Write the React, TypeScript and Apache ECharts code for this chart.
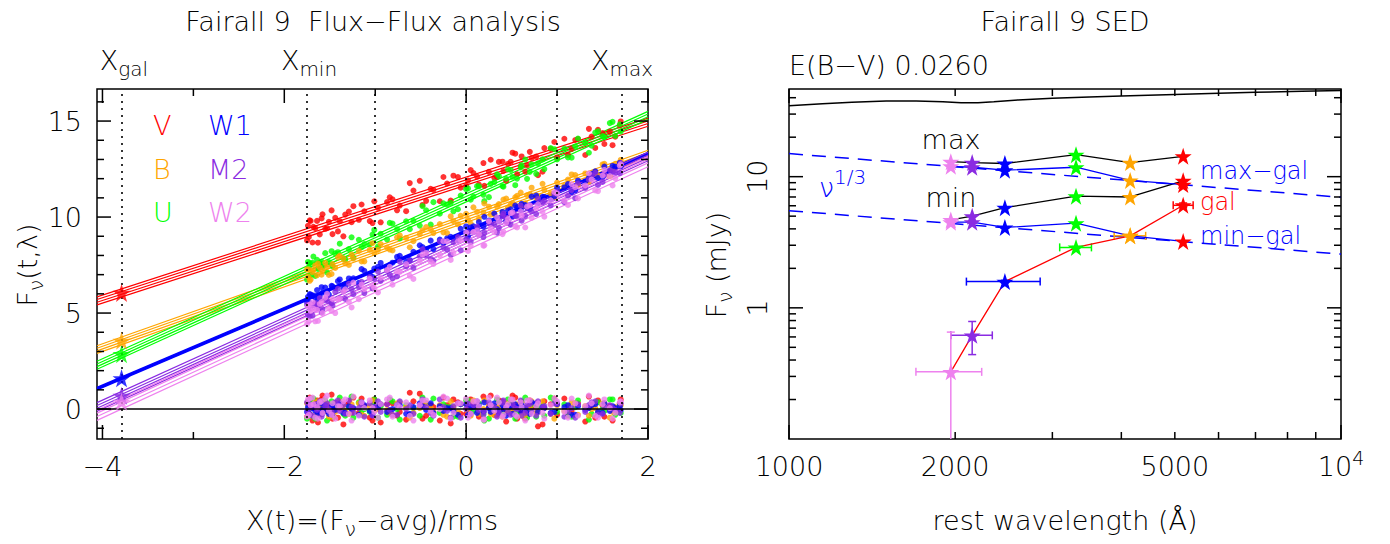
import React, { useEffect, useRef } from 'react';
import * as echarts from 'echarts';

const FONT = '"DejaVu Sans", sans-serif';
const FS = 27;
const FW = 200;

// ---------- left panel: flux-flux analysis ----------
const filterNames = ['V', 'B', 'U', 'W1', 'M2', 'W2'];
const filterColors = ['#ff0000', '#ffa500', '#00ff00', '#0000ff', '#8a2be2', '#ee82ee'];
const leftXRange = [-4.06, 2.0];
const leftYRange = [-1.56, 16.67];
// fitted linear model F = a + b X for each filter
const fitAt0 = [11.87, 9.92, 11.0, 9.26, 8.85, 8.64];
const fitSlope = [1.536, 1.68, 2.148, 2.02, 2.152, 2.18];
const bandOffsets = [
  [-0.21, -0.07, 0.07, 0.21],
  [-0.2, -0.07, 0.07, 0.2],
  [-0.21, -0.07, 0.07, 0.21],
  [-0.06, -0.02, 0.02, 0.06],
  [-0.22, -0.07, 0.07, 0.22],
  [-0.38, -0.18, 0.0, 0.15],
];
const markerNames = ['gal', 'min', 'max'];
const markerX = [-3.79, -1.75, 1.71];
const extraDottedX = [-1, 0, 1];
const galFluxLeft = [6.05, 3.56, 2.86, 1.6, 0.69, 0.38];

// epochs (X values) and residuals from the fit for each filter
const epochX = [-1.74, -1.73, -1.71, -1.69, -1.66, -1.64, -1.61, -1.58, -1.55, -1.51, -1.47, -1.44, -1.39, -1.35, -1.29, -1.24, -1.18, -1.12, -1.06, -1.01, -0.94, -0.87, -0.81, -0.73, -0.66, -0.58, -0.51, -0.44, -0.36, -0.29, -0.21, -0.14, -0.06, 0.02, 0.08, 0.14, 0.19, 0.25, 0.31, 0.36, 0.41, 0.46, 0.51, 0.56, 0.61, 0.67, 0.72, 0.79, 0.86, 0.93, 1.0, 1.08, 1.16, 1.23, 1.31, 1.38, 1.45, 1.52, 1.58, 1.64, 1.69];
const resV = [0.35, -0.25, 0.55, -0.6, 0.1, 0.45, -0.3, 0.7, -0.1, 0.2, -0.5, 0.3, 0.05, -0.8, 0.4, 0.6, -0.2, 0.15, -0.45, 0.5, -0.7, 0.25, 0.3, -0.15, -0.55, 0.4, 0.8, -0.35, 0.1, -0.6, 0.2, 0.5, -0.25, 0.0, 0.3, -0.4, 0.65, 0.1, -0.3, 0.45, -0.1, 0.2, 0.7, -0.5, 0.35, -0.2, 0.1, -0.9, 0.4, 0.25, -0.3, 0.55, -0.1, 0.3, -0.65, 0.2, 0.45, -0.4, 0.15, -0.2, 0.3];
const resB = [-0.1, 0.25, -0.3, 0.05, 0.35, -0.2, 0.15, -0.05, 0.3, -0.4, 0.1, -0.15, 0.4, 0.2, -0.25, 0.0, 0.3, -0.35, 0.15, -0.1, 0.25, -0.05, -0.3, 0.35, 0.1, -0.2, 0.05, 0.3, -0.15, 0.2, -0.4, 0.1, 0.25, -0.1, 0.45, -0.25, 0.0, 0.2, -0.3, 0.15, 0.3, -0.2, -0.05, 0.25, -0.35, 0.1, 0.4, -0.15, 0.05, -0.25, 0.2, -0.1, 0.35, -0.3, 0.15, 0.0, -0.2, 0.3, -0.45, 0.1, -0.05];
const resU = [0.4, 0.1, -0.35, 0.25, -0.5, 0.3, 0.05, -0.2, 0.45, -0.1, -0.4, 0.2, 0.6, -0.25, 0.1, -0.45, 0.35, 0.0, -0.15, 0.5, 0.15, -0.3, 0.4, -0.55, 0.2, 0.05, -0.35, 0.3, 0.55, -0.2, 0.1, -0.4, 0.25, 0.45, -0.1, 0.3, -0.25, -0.5, 0.15, 0.35, -0.3, 0.5, 0.0, -0.2, 0.4, -0.45, 0.2, 0.1, -0.35, 0.6, -0.15, 0.25, -0.4, 0.45, 0.05, -0.25, 0.35, -0.1, 0.5, -0.3, 0.2];
const resW1 = [0.1, -0.2, 0.15, 0.05, -0.1, 0.25, -0.15, 0.0, 0.2, -0.25, 0.1, -0.05, 0.3, -0.2, 0.15, 0.05, -0.3, 0.2, -0.1, 0.1, 0.25, -0.15, 0.0, 0.2, -0.25, 0.1, 0.3, -0.05, -0.2, 0.15, 0.05, -0.1, 0.25, -0.3, 0.1, 0.2, -0.15, 0.05, 0.3, -0.2, 0.0, 0.15, -0.25, 0.1, 0.2, -0.1, 0.35, -0.15, 0.05, -0.2, 0.25, 0.1, -0.3, 0.15, -0.05, 0.2, -0.15, 0.3, -0.1, 0.05, 0.15];
const resM2 = [-0.2, 0.3, 0.1, -0.35, 0.25, -0.05, 0.4, -0.25, 0.15, 0.0, -0.3, 0.35, -0.1, 0.2, 0.45, -0.2, 0.05, -0.4, 0.3, 0.1, -0.15, 0.25, -0.3, 0.4, 0.0, -0.25, 0.2, 0.1, -0.35, 0.5, -0.1, 0.15, -0.45, 0.3, 0.2, -0.05, -0.3, 0.35, 0.1, -0.2, 0.45, -0.15, 0.25, 0.0, -0.35, 0.2, -0.1, 0.4, 0.15, -0.25, 0.3, -0.4, 0.05, 0.25, -0.15, 0.35, -0.3, 0.1, 0.2, -0.05, -0.2];
const resW2 = [0.5, -0.3, 0.2, 0.6, -0.45, 0.1, 0.35, -0.2, 0.55, -0.1, 0.3, -0.5, 0.15, 0.4, -0.25, 0.65, -0.35, 0.05, 0.45, -0.15, 0.25, 0.5, -0.4, 0.1, 0.35, -0.6, 0.2, 0.45, -0.3, 0.0, 0.55, -0.2, 0.3, -0.45, 0.4, 0.15, -0.55, 0.6, -0.1, 0.35, -0.3, 0.25, 0.5, -0.4, 0.1, 0.45, -0.25, 0.3, -0.5, 0.2, 0.4, -0.15, 0.55, -0.35, 0.15, 0.3, -0.45, 0.5, 0.05, -0.2, 0.35];

const epochX2 = [-1.75, -1.72, -1.68, -1.63, -1.59, -1.53, -1.48, -1.41, -1.33, -1.26, -1.15, -1.03, -0.97, -0.84, -0.76, -0.62, -0.48, -0.39, -0.25, -0.17, -0.09, 0.0, 0.05, 0.12, 0.2, 0.27, 0.34, 0.4, 0.44, 0.49, 0.54, 0.6, 0.65, 0.7, 0.77, 0.84, 0.97, 1.12, 1.2, 1.35, 1.42, 1.5, 1.61, 1.7];
const resV2 = [-0.4, 0.6, 0.2, -0.7, 0.5, -0.1, 0.75, -0.45, 0.3, -0.2, 0.55, -0.6, 0.1, 0.45, -0.35, 0.85, -0.5, 0.2, 0.6, -0.75, 0.35, -0.25, 0.5, 0.05, -0.55, 0.7, -0.3, 0.4, -0.65, 0.25, 0.6, -0.15, -0.5, 0.45, 0.1, -0.8, 0.55, -0.35, 0.3, 0.65, -0.45, 0.2, -0.6, 0.5];
const resB2 = [0.3, -0.35, 0.15, 0.4, -0.25, 0.05, -0.4, 0.35, -0.1, 0.25, -0.3, 0.45, 0.0, -0.2, 0.3, -0.45, 0.2, 0.1, -0.3, 0.4, -0.15, 0.25, -0.35, 0.15, 0.45, -0.25, 0.05, -0.4, 0.3, -0.1, 0.2, 0.35, -0.3, 0.1, -0.2, 0.4, -0.5, 0.15, 0.25, -0.35, 0.05, 0.3, -0.15, 0.2];
const resU2 = [-0.5, 0.3, 0.55, -0.2, 0.1, -0.6, 0.4, 0.2, -0.35, 0.65, -0.1, 0.3, -0.45, 0.5, 0.0, -0.3, 0.6, -0.55, 0.25, 0.1, -0.4, 0.45, -0.2, 0.35, -0.6, 0.15, 0.5, -0.25, 0.05, 0.4, -0.5, 0.3, 0.6, -0.15, -0.4, 0.2, 0.45, -0.3, 0.1, -0.55, 0.35, 0.0, 0.5, -0.2];
const resW12 = [-0.15, 0.2, 0.05, -0.25, 0.3, -0.1, 0.15, 0.25, -0.2, 0.0, 0.35, -0.3, 0.1, -0.05, 0.2, -0.25, 0.15, 0.3, -0.1, 0.05, -0.3, 0.25, 0.1, -0.2, 0.35, -0.15, 0.0, 0.2, -0.35, 0.15, 0.25, -0.1, 0.05, -0.25, 0.3, 0.1, -0.15, 0.2, -0.3, 0.05, 0.25, -0.2, 0.15, -0.05];
const resM22 = [0.35, -0.3, 0.2, 0.05, -0.4, 0.3, -0.15, 0.45, -0.25, 0.1, 0.25, -0.35, 0.4, -0.05, -0.3, 0.2, 0.5, -0.2, 0.1, -0.45, 0.3, 0.0, -0.25, 0.4, -0.1, 0.2, -0.4, 0.35, 0.15, -0.3, 0.05, 0.45, -0.2, 0.25, -0.35, 0.1, 0.3, -0.15, -0.45, 0.2, 0.4, -0.25, 0.05, 0.3];
const resW22 = [-0.4, 0.55, 0.25, -0.5, 0.4, 0.7, -0.3, 0.15, 0.5, -0.6, 0.35, 0.05, -0.45, 0.6, 0.2, -0.35, 0.45, -0.1, 0.65, -0.5, 0.3, 0.55, -0.25, 0.4, -0.55, 0.2, 0.6, -0.4, 0.1, 0.5, -0.3, 0.35, -0.6, 0.45, 0.15, -0.2, 0.55, -0.45, 0.3, 0.7, -0.35, 0.25, -0.5, 0.4];

const epochSets = [epochX, epochX2];
const residualSets = [
  [resV, resB, resU, resW1, resM2, resW2],
  [resV2, resB2, resU2, resW12, resM22, resW22],
];

const leftXLabels = [-4, -2, 0, 2];
const leftXMajor = [-4, -2, 0, 2];
const leftXMinor = [-3, -1, 1];
const leftYLabels = [0, 5, 10, 15];
const leftYMajor = [0, 5, 10, 15];
const leftYMinor = [-1, 1, 2, 3, 4, 6, 7, 8, 9, 11, 12, 13, 14, 16];

// ---------- right panel: SED ----------
const lam = [5177, 4150, 3311, 2461, 2147, 1964]; // V,B,U,W1,M2,W2
const maxF = [14.3, 12.8, 14.7, 12.6, 12.8, 13.0];
const maxGalF = [8.7, 9.37, 11.8, 11.2, 11.8, 12.0];
const minF = [9.3, 7.0, 7.1, 5.8, 5.0, 4.68];
const minGalF = [3.21, 3.54, 4.42, 4.1, 4.5, 4.5];
const galF = [6.05, 3.54, 2.89, 1.585, 0.617, 0.325];
const galLamLo = [4966, 3882, 3093, 2096, 1964, 1698];
const galLamHi = [5397, 4427, 3531, 2851, 2335, 2234];
const galFLo = [5.8, 3.5, 2.85, 1.55, 0.44, 0.1];
const galFHi = [6.3, 3.58, 2.93, 1.62, 0.787, 0.653];
const nuThirdHigh = [[1000, 15.0], [10000, 6.96]];
const nuThirdLow = [[1000, 5.5], [10000, 2.57]];
const topCurve = [[1000, 34.8], [1150, 36.0], [1300, 37.0], [1500, 37.7], [1700, 37.8], [1900, 37.2], [2050, 36.6], [2200, 36.6], [2350, 37.3], [2600, 38.5], [3000, 39.6], [3500, 40.5], [4000, 41.3], [5000, 42.4], [6000, 43.3], [7000, 44.0], [8500, 44.8], [10000, 45.4]];
const rightXRange = [1000, 10000];
const rightYRange = [0.1, 46.6];
const rightXLabels = [1000, 2000, 5000, 10000];
const rightXMajor = [1000, 10000];
const rightXMinor = [2000, 3000, 4000, 5000, 6000, 7000, 8000, 9000];
const rightYLabels = [1, 10];
const rightYMajor = [1, 10];
const rightYMinor = [0.2, 0.3, 0.4, 0.5, 0.6, 0.7, 0.8, 0.9, 2, 3, 4, 5, 6, 7, 8, 9, 20, 30, 40];

const STAR = 'path://M50,0 L61.8,35.1 L97.6,35.1 L68.5,56.7 L79.4,91.2 L50,70 L20.6,91.2 L31.5,56.7 L2.4,35.1 L38.2,35.1 Z';
const MAJOR_LEN = 14;
const MINOR_LEN = 7;

function tickSeries(gi: number, xMaj: number[], xMin: number[], yMaj: number[], yMin: number[], xRef: number, yRef: number) {
  const data: number[][] = [];
  xMaj.forEach((v) => data.push([v, yRef, MAJOR_LEN, 0]));
  xMin.forEach((v) => data.push([v, yRef, MINOR_LEN, 0]));
  yMaj.forEach((v) => data.push([xRef, v, MAJOR_LEN, 1]));
  yMin.forEach((v) => data.push([xRef, v, MINOR_LEN, 1]));
  return {
    type: 'custom',
    xAxisIndex: gi,
    yAxisIndex: gi,
    silent: true,
    z: 20,
    encode: { x: 0, y: 1 },
    data,
    renderItem: (params: any, api: any) => {
      const cs = params.coordSys;
      const p = api.coord([api.value(0), api.value(1)]);
      const len = api.value(2);
      const isY = api.value(3);
      const style = { stroke: '#000', lineWidth: 1.5 };
      if (!isY) {
        const x = p[0];
        return {
          type: 'group',
          children: [
            { type: 'line', shape: { x1: x, y1: cs.y + cs.height, x2: x, y2: cs.y + cs.height - len }, style },
            { type: 'line', shape: { x1: x, y1: cs.y, x2: x, y2: cs.y + len }, style },
          ],
        };
      }
      const y = p[1];
      return {
        type: 'group',
        children: [
          { type: 'line', shape: { x1: cs.x, y1: y, x2: cs.x + len, y2: y }, style },
          { type: 'line', shape: { x1: cs.x + cs.width, y1: y, x2: cs.x + cs.width - len, y2: y }, style },
        ],
      };
    },
  };
}

const minus = (v: number) => (v < 0 ? '\u2212' + Math.abs(v) : String(v));

function txt(x: number, y: number, text: string, color: string, align: string, extra: any = {}, size: number = FS) {
  return {
    type: 'text',
    x,
    y,
    silent: true,
    z: 30,
    ...extra,
    style: {
      text,
      fill: color,
      fontSize: size,
      fontWeight: FW,
      fontFamily: FONT,
      textAlign: align,
      textVerticalAlign: 'middle',
      rich: {
        a: { fontSize: size, fontWeight: FW, fontFamily: FONT, fill: color, color },
        sub: { fontSize: 20, fontWeight: FW, fontFamily: FONT, fill: color, color, padding: [18, 0, 0, 0] },
        sup: { fontSize: 20, fontWeight: FW, fontFamily: FONT, fill: color, color, padding: [0, 0, 20, 0] },
      },
    },
  };
}

function buildOption() {
  const series: any[] = [];

  // left: fitted lines
  filterNames.forEach((_, f) => {
    bandOffsets[f].forEach((o, k) => {
      const s: any = {
        type: 'line',
        xAxisIndex: 0,
        yAxisIndex: 0,
        silent: true,
        symbol: 'none',
        z: 2,
        lineStyle: { color: filterColors[f], width: f === 3 ? 1.6 : 1.2 },
        data: leftXRange.map((x) => [x, fitAt0[f] + o + fitSlope[f] * x]),
      };
      if (f === 0 && k === 0) {
        s.markLine = {
          silent: true,
          symbol: ['none', 'none'],
          label: { show: false },
          data: [
            ...markerX.concat(extraDottedX).map((x) => ({ xAxis: x, lineStyle: { type: [2, 5], width: 1.6, color: '#000' } })),
            { yAxis: 0, lineStyle: { type: 'solid', width: 1.6, color: '#000' } },
          ],
        };
      }
      series.push(s);
    });
  });

  // left: flux points and residual points
  const drawOrder = [0, 2, 1, 3, 4, 5];
  drawOrder.forEach((f) => {
    const flux: number[][] = [];
    const res: number[][] = [];
    epochSets.forEach((xs, si) => {
      xs.forEach((x, i) => {
        const r = residualSets[si][f][i];
        if (r === undefined) return;
        flux.push([x, fitAt0[f] + fitSlope[f] * x + r]);
        res.push([x, r]);
      });
    });
    series.push({ type: 'scatter', xAxisIndex: 0, yAxisIndex: 0, silent: true, z: 3, symbolSize: 6, itemStyle: { color: filterColors[f] }, data: flux });
    series.push({ type: 'scatter', xAxisIndex: 0, yAxisIndex: 0, silent: true, z: 3, symbolSize: 6, itemStyle: { color: filterColors[f] }, data: res });
  });

  // left: stars at X_gal
  series.push({
    type: 'scatter',
    xAxisIndex: 0,
    yAxisIndex: 0,
    silent: true,
    z: 5,
    symbol: STAR,
    symbolSize: 18,
    data: galFluxLeft.map((v, f) => ({ value: [markerX[0], v], itemStyle: { color: filterColors[f] } })),
  });

  series.push(tickSeries(0, leftXMajor, leftXMinor, leftYMajor, leftYMinor, 0, 0));

  // right panel
  series.push({ type: 'line', xAxisIndex: 1, yAxisIndex: 1, silent: true, symbol: 'none', z: 2, lineStyle: { color: '#000', width: 1.5 }, data: topCurve });
  [nuThirdHigh, nuThirdLow].forEach((d) =>
    series.push({ type: 'line', xAxisIndex: 1, yAxisIndex: 1, silent: true, symbol: 'none', z: 2, lineStyle: { color: '#0000ff', width: 1.5, type: [14, 9] }, data: d })
  );
  series.push({
    type: 'custom',
    xAxisIndex: 1,
    yAxisIndex: 1,
    silent: true,
    z: 3,
    encode: { x: 0, y: 1 },
    data: lam.map((l, i) => [l, galF[i], galLamLo[i], galLamHi[i], galFLo[i], galFHi[i], i]),
    renderItem: (params: any, api: any) => {
      const c = filterColors[api.value(6)];
      const p = api.coord([api.value(0), api.value(1)]);
      const xl = api.coord([api.value(2), api.value(1)])[0];
      const xh = api.coord([api.value(3), api.value(1)])[0];
      const yl = api.coord([api.value(0), api.value(4)])[1];
      const yh = api.coord([api.value(0), api.value(5)])[1];
      const st = { stroke: c, lineWidth: 1.5 };
      const cap = 4;
      const ch: any[] = [
        { type: 'line', shape: { x1: xl, y1: p[1], x2: xh, y2: p[1] }, style: st },
        { type: 'line', shape: { x1: xl, y1: p[1] - cap, x2: xl, y2: p[1] + cap }, style: st },
        { type: 'line', shape: { x1: xh, y1: p[1] - cap, x2: xh, y2: p[1] + cap }, style: st },
        { type: 'line', shape: { x1: p[0], y1: yl, x2: p[0], y2: yh }, style: st },
        { type: 'line', shape: { x1: p[0] - cap, y1: yh, x2: p[0] + cap, y2: yh }, style: st },
      ];
      if (api.value(4) > rightYRange[0]) ch.push({ type: 'line', shape: { x1: p[0] - cap, y1: yl, x2: p[0] + cap, y2: yl }, style: st });
      return { type: 'group', children: ch };
    },
  });
  const sedLine = (vals: number[], color: string) => ({
    type: 'line',
    xAxisIndex: 1,
    yAxisIndex: 1,
    silent: true,
    z: 4,
    symbol: STAR,
    symbolSize: 17,
    showAllSymbol: true,
    lineStyle: { color, width: 1.3 },
    data: lam.map((l, i) => ({ value: [l, vals[i]], itemStyle: { color: filterColors[i] } })),
  });
  series.push(sedLine(maxF, '#000'));
  series.push(sedLine(minF, '#000'));
  series.push(sedLine(maxGalF, '#0000ff'));
  series.push(sedLine(minGalF, '#0000ff'));
  series.push(sedLine(galF, '#ff0000'));

  series.push(tickSeries(1, rightXMajor, rightXMinor, rightYMajor, rightYMinor, 2000, 1));

  const labelBase = { color: '#000', fontSize: FS, fontWeight: FW, fontFamily: FONT };

  const graphic: any[] = [
    txt(373, 21, 'Fairall 9  Flux\u2212Flux analysis', '#000', 'center'),
    txt(1065, 21, 'Fairall 9 SED', '#000', 'center'),
    ...markerNames.map((n, i) => {
      const px = [124, 309, 622][i];
      return txt(px, 60, `{a|X}{sub|${n}}`, '#000', 'center');
    }),
    txt(789, 65, 'E(B\u2212V) 0.0260', '#000', 'left'),
    txt(372, 520, '{a|X(t)=(F}{sub|\u03bd}{a|\u2212avg)/rms}', '#000', 'center'),
    txt(1065, 520, 'rest wavelength (\u00c5)', '#000', 'center'),
    txt(27, 265, '{a|F}{sub|\u03bd}{a|(t,\u03bb)}', '#000', 'center', { rotation: Math.PI / 2 }),
    txt(716, 265, '{a|F}{sub|\u03bd}{a| (mJy)}', '#000', 'center', { rotation: Math.PI / 2 }),
    // legend
    txt(153, 125, 'V', filterColors[0], 'left'),
    txt(153, 169, 'B', filterColors[1], 'left'),
    txt(153, 212, 'U', filterColors[2], 'left'),
    txt(208, 125, 'W1', filterColors[3], 'left'),
    txt(208, 169, 'M2', filterColors[4], 'left'),
    txt(208, 212, 'W2', filterColors[5], 'left'),
    // SED labels
    txt(951, 139, 'max', '#000', 'center'),
    txt(951, 197, 'min', '#000', 'center'),
    txt(819, 187, '{a|\u03bd}{sup|1/3}', '#0000ff', 'left'),
    txt(1200, 171, 'max\u2212gal', '#0000ff', 'left', {}, 24),
    txt(1200, 202, 'gal', '#ff0000', 'left', {}, 24),
    txt(1200, 236, 'min\u2212gal', '#0000ff', 'left', {}, 24),
  ];

  return {
    animation: false,
    backgroundColor: '#ffffff',
    textStyle: { fontFamily: FONT },
    grid: [
      { left: 97, top: 89, width: 551, height: 350, show: true, borderColor: '#000', borderWidth: 1.5, backgroundColor: 'transparent' },
      { left: 789, top: 89, width: 552, height: 350, show: true, borderColor: '#000', borderWidth: 1.5, backgroundColor: 'transparent' },
    ],
    xAxis: [
      {
        gridIndex: 0, type: 'value', min: leftXRange[0], max: leftXRange[1],
        axisLine: { show: false }, axisTick: { show: false }, splitLine: { show: false },
        axisLabel: { ...labelBase, customValues: leftXLabels, margin: 14, formatter: (v: number) => minus(v) },
      },
      {
        gridIndex: 1, type: 'log', logBase: 10, min: rightXRange[0], max: rightXRange[1],
        axisLine: { show: false }, axisTick: { show: false }, splitLine: { show: false },
        axisLabel: {
          ...labelBase, customValues: rightXLabels, margin: 9,
          formatter: (v: number) => (v >= 9999 ? '{a|10}{b|4}' : `{a|${Math.round(v)}}`),
          rich: {
            a: { fontSize: FS, fontWeight: FW, fontFamily: FONT, color: '#000', lineHeight: 36 },
            b: { fontSize: 19, fontWeight: FW, fontFamily: FONT, color: '#000', padding: [0, 0, 18, 0] },
          },
        },
      },
    ],
    yAxis: [
      {
        gridIndex: 0, type: 'value', min: leftYRange[0], max: leftYRange[1],
        axisLine: { show: false }, axisTick: { show: false }, splitLine: { show: false },
        axisLabel: { ...labelBase, customValues: leftYLabels, margin: 15 },
      },
      {
        gridIndex: 1, type: 'log', logBase: 10, min: rightYRange[0], max: rightYRange[1],
        axisLine: { show: false }, axisTick: { show: false }, splitLine: { show: false },
        axisLabel: { ...labelBase, customValues: rightYLabels, margin: 18, rotate: 90, formatter: (v: number) => String(Math.round(v)) },
      },
    ],
    series,
    graphic,
  };
}

export default function App() {
  const ref = useRef<HTMLDivElement>(null);
  useEffect(() => {
    if (!ref.current) return;
    const chart = echarts.init(ref.current, null, { renderer: 'svg' });
    chart.setOption(buildOption() as any);
    return () => chart.dispose();
  }, []);
  return <div ref={ref} style={{ position: 'fixed', left: 0, top: 0, width: 1390, height: 544, background: '#fff' }} />;
}
